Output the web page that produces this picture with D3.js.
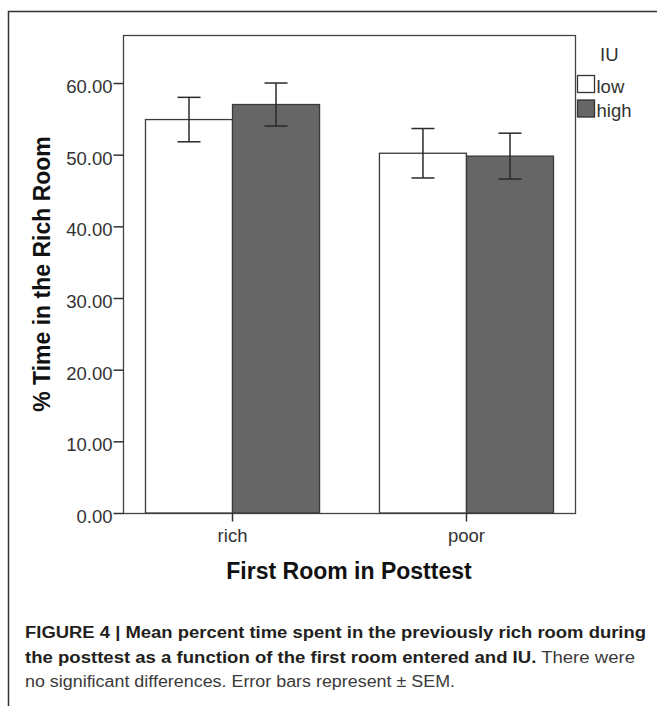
<!DOCTYPE html>
<html>
<head>
<meta charset="utf-8">
<script src="https://cdn.jsdelivr.net/npm/d3@7"></script>
<style>
  body { margin: 0; background: #fff; }
  svg { display: block; font-family: 'Liberation Sans', Arial, sans-serif; }
</style>
</head>
<body>
<div id="chart"></div>
<script>
// data
const categories = ['rich', 'poor'];
const groups = ['low', 'high'];
const lowMeans = [54.9, 50.2];
const highMeans = [57.0, 49.8];
const lowSem = [3.1, 3.45];
const highSem = [3.0, 3.2];
const yTicks = [0, 10, 20, 30, 40, 50, 60];

const captionLines = [
  [{ t: 'FIGURE 4 | Mean percent time spent in the previously rich room during', b: true }],
  [{ t: 'the posttest as a function of the first room entered and IU.', b: true }, { t: ' There were', b: false }],
  [{ t: 'no significant differences. Error bars represent \u00b1 SEM.', b: false }]
];

const width = 657;
const height = 706;
const plot = { left: 123, right: 575, top: 35, bottom: 513 };
const colors = { low: '#ffffff', high: '#666666' };
const ink = '#333333';

const rows = categories.map((c, i) => ({
  cat: c,
  vals: [
    { g: 'low', mean: lowMeans[i], sem: lowSem[i] },
    { g: 'high', mean: highMeans[i], sem: highSem[i] }
  ]
}));

const svg = d3.select('#chart')
  .append('svg')
    .attr('width', width)
    .attr('height', height);

// outer frame (only top and left visible)
svg.append('path')
  .attr('d', `M8.5,${height} V11.5 H${width}`)
  .attr('fill', 'none')
  .attr('stroke', ink)
  .attr('stroke-width', 1.5);

const x0 = d3.scaleBand()
  .domain(categories)
  .range([plot.left, plot.right])
  .paddingInner(0.256)
  .paddingOuter(0.094);

const x1 = d3.scaleBand()
  .domain(groups)
  .range([0, x0.bandwidth()]);

const y = d3.scaleLinear()
  .domain([0, 66.7])
  .range([plot.bottom, plot.top]);

// plot box
svg.append('rect')
  .attr('x', plot.left + 0.5)
  .attr('y', plot.top + 0.5)
  .attr('width', plot.right - plot.left)
  .attr('height', plot.bottom - plot.top)
  .attr('fill', 'none')
  .attr('stroke', '#444')
  .attr('stroke-width', 1.3);

// bars
const catG = svg.selectAll('.cat')
  .data(rows)
  .enter()
  .append('g')
    .attr('class', 'cat')
    .attr('transform', d => `translate(${x0(d.cat)},0)`);

catG.selectAll('rect')
  .data(d => d.vals)
  .enter()
  .append('rect')
    .attr('x', d => x1(d.g) + 0.5)
    .attr('y', d => y(d.mean))
    .attr('width', x1.bandwidth())
    .attr('height', d => y(0) - y(d.mean))
    .attr('fill', d => colors[d.g])
    .attr('stroke', '#3a3a3a')
    .attr('stroke-width', 1.3);

// error bars
const capHalf = 11.5;
const err = catG.selectAll('.err')
  .data(d => d.vals)
  .enter()
  .append('g')
    .attr('class', 'err')
    .attr('transform', d => `translate(${x1(d.g) + x1.bandwidth() / 2 + 0.5},0)`)
    .attr('stroke', '#2a2a2a')
    .attr('stroke-width', 1.5);

err.append('line')
  .attr('y1', d => y(d.mean + d.sem))
  .attr('y2', d => y(d.mean - d.sem));
err.append('line')
  .attr('x1', -capHalf).attr('x2', capHalf)
  .attr('y1', d => y(d.mean + d.sem))
  .attr('y2', d => y(d.mean + d.sem));
err.append('line')
  .attr('x1', -capHalf).attr('x2', capHalf)
  .attr('y1', d => y(d.mean - d.sem))
  .attr('y2', d => y(d.mean - d.sem));

// y axis
const yAxis = svg.append('g')
  .attr('transform', `translate(${plot.left + 0.5},0)`)
  .call(d3.axisLeft(y).tickValues(yTicks).tickFormat(d3.format('.2f')).tickSize(10).tickPadding(1));
yAxis.select('.domain').remove();
yAxis.selectAll('line').attr('stroke', ink).attr('stroke-width', 1.5);
yAxis.selectAll('text')
  .attr('font-size', 18.5)
  .attr('font-family', 'Liberation Sans, Arial, sans-serif')
  .attr('fill', '#333')
  .attr('dy', '0.52em');

// x axis
const xAxis = svg.append('g')
  .attr('transform', `translate(0.5,${plot.bottom + 0.5})`)
  .call(d3.axisBottom(x0).tickSize(8).tickPadding(7));
xAxis.select('.domain').remove();
xAxis.selectAll('line').attr('stroke', ink).attr('stroke-width', 1.5);
xAxis.selectAll('text')
  .attr('font-size', 18.5)
  .attr('font-family', 'Liberation Sans, Arial, sans-serif')
  .attr('fill', '#333');

// axis titles
svg.append('text')
  .attr('x', (plot.left + plot.right) / 2)
  .attr('y', 579)
  .attr('text-anchor', 'middle')
  .attr('font-size', 23)
  .attr('font-weight', 'bold')
  .attr('fill', '#111')
  .text('First Room in Posttest');

svg.append('text')
  .attr('transform', `translate(50,${(plot.top + plot.bottom) / 2}) rotate(-90)`)
  .attr('text-anchor', 'middle')
  .attr('font-size', 23)
  .attr('font-weight', 'bold')
  .attr('fill', '#111')
  .text('% Time in the Rich Room');

// legend
const legend = svg.append('g').attr('transform', 'translate(577,0)');
legend.append('text')
  .attr('x', 23)
  .attr('y', 61)
  .attr('font-size', 18.5)
  .attr('fill', '#333')
  .text('IU');
const li = legend.selectAll('.li')
  .data(groups)
  .enter()
  .append('g')
    .attr('class', 'li')
    .attr('transform', (d, i) => `translate(0,${75 + i * 24.5})`);
li.append('rect')
  .attr('x', 0.5).attr('y', 0.5)
  .attr('width', 17).attr('height', 17)
  .attr('fill', d => colors[d])
  .attr('stroke', '#333')
  .attr('stroke-width', 1.3);
li.append('text')
  .attr('x', 19.5)
  .attr('y', 17.5)
  .attr('font-size', 18.5)
  .attr('fill', '#333')
  .text(d => d);

// caption
const capWidths = [621, 610, 430];
const cap = svg.append('g').attr('font-size', 16);
captionLines.forEach((line, i) => {
  const t = cap.append('text')
    .attr('x', 25)
    .attr('y', 638 + i * 24.5);
  line.forEach(seg => {
    t.append('tspan')
      .attr('font-weight', seg.b ? 'bold' : 'normal')
      .attr('fill', seg.b ? '#231f20' : '#3a3a3a')
      .text(seg.t);
  });
  t.attr('textLength', capWidths[i]).attr('lengthAdjust', 'spacingAndGlyphs');
});
</script>
</body>
</html>
